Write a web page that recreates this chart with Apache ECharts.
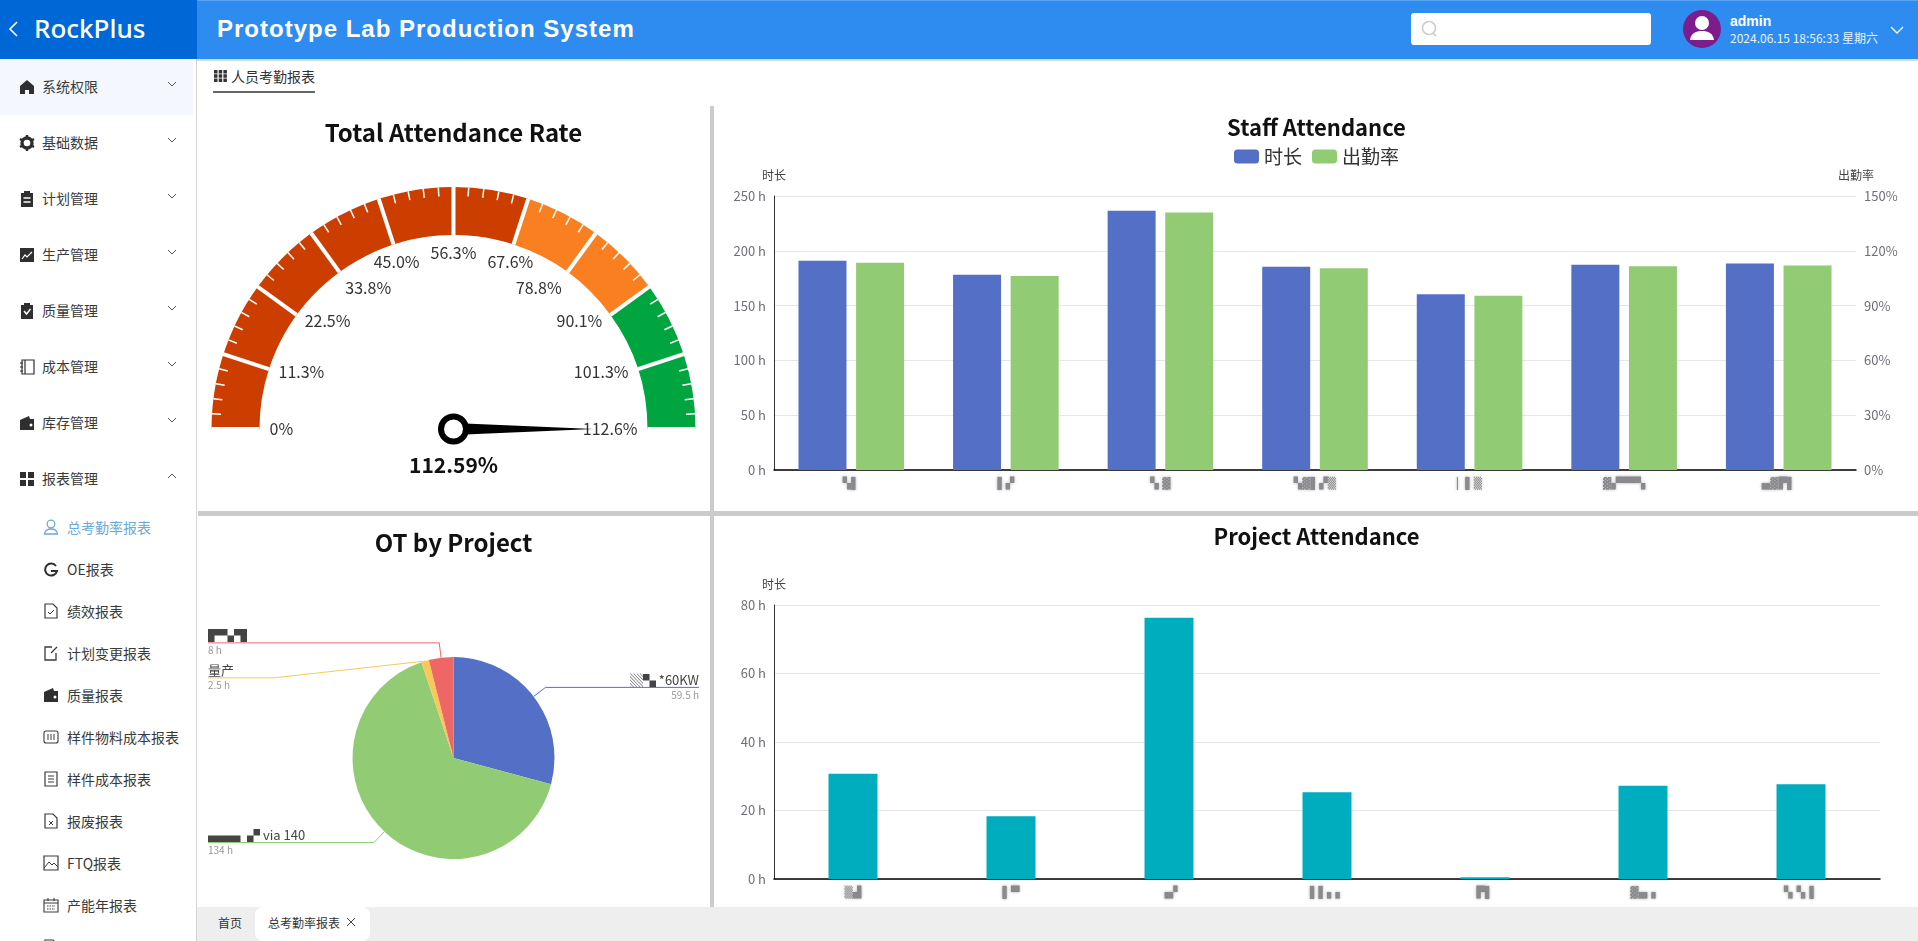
<!DOCTYPE html>
<html>
<head>
<meta charset="utf-8">
<title>Prototype Lab Production System</title>
<script src="https://cdn.jsdelivr.net/npm/echarts@6/dist/echarts.min.js"></script>
<style>
html,body{margin:0;padding:0;width:1918px;height:941px;overflow:hidden;background:#fff;font-family:"Noto Sans CJK SC","Noto Sans",sans-serif;color:#333}
#logo{position:absolute;left:0;top:0;width:197px;height:59px;background:#0067d6;color:#fff}
#logo span{position:absolute;left:34px;top:9px;font-size:26px;font-weight:500;line-height:38px;font-family:"Noto Sans"}
#logo svg{position:absolute;left:7px;top:20px}
#head{position:absolute;left:197px;top:0;right:0;height:59px;background:#2e8cf0;border-top:1px solid #5aa5f3;box-sizing:border-box}
#head h1{position:absolute;left:20px;top:11px;margin:0;font:bold 24px/34px "Liberation Sans";letter-spacing:1px;color:#fff;white-space:nowrap}
#search{position:absolute;left:1214px;top:12px;width:240px;height:32px;background:#fff;border-radius:3px}
#search svg{position:absolute;left:10px;top:7px}
#avatar{position:absolute;left:1486px;top:9px}
#admin{position:absolute;left:1533px;top:11px;font:bold 14px/18px "Liberation Sans";color:#fff}
#stamp{position:absolute;left:1533px;top:28px;font-size:12px;line-height:18px;color:#e6f2ff;white-space:nowrap}
#more{position:absolute;left:1693px;top:24px}
#headline{position:absolute;left:197px;right:0;top:59px;height:2px;background:#cfe0e3}
#side{position:absolute;left:0;top:59px;width:197px;height:882px;border-right:1px solid #d4d4d4;box-sizing:border-box;overflow:hidden;background:#fff}
.top{position:absolute;left:0;width:193px;height:56px}
.top.on{background:#f4f8fe}
.top svg.i{position:absolute;left:19px;top:20px}
.top span{position:absolute;left:42px;top:17px;font-size:14px;line-height:20px;color:#3a3a3a}
.top svg.c{position:absolute;left:166px;top:21px}
.sub{position:absolute;left:0;width:193px;height:42px}
.sub svg{position:absolute;left:43px;top:12px}
.sub span{position:absolute;left:67px;top:10px;font-size:14px;line-height:20px;color:#3a3a3a;white-space:nowrap}
.sub.on span{color:#6aa9d8}
#tab{position:absolute;left:213px;top:61px;width:102px;height:32px;border-bottom:2px solid #666;box-sizing:border-box}
#tab span{position:absolute;left:18px;top:5px;font-size:14px;line-height:20px;white-space:nowrap}
#tab svg{position:absolute;left:1px;top:9px}
.chart{position:absolute}
#c1{left:197px;top:107px;width:513px;height:404px}
#c2{left:715px;top:107px;width:1203px;height:404px}
#c3{left:197px;top:516px;width:513px;height:391px}
#c4{left:715px;top:516px;width:1203px;height:391px}
#dv{position:absolute;left:710px;top:106px;width:4px;height:801px;background:#cbcbcb}
#dh{position:absolute;left:198px;top:511px;right:0;height:5px;background:#cbcbcb}
#foot{position:absolute;left:197px;right:0;top:907px;height:34px;background:#eee}
#home{position:absolute;left:21px;top:7px;font-size:12px;line-height:18px}
#cur{position:absolute;left:58px;top:0;width:115px;height:34px;background:#fff;border-radius:8px}
#cur span{position:absolute;left:13px;top:7px;font-size:12px;line-height:18px;white-space:nowrap}
#cur svg{position:absolute;left:91px;top:10px}
</style>
</head>
<body>
<div id="logo"><svg width="12" height="18" viewBox="0 0 12 18"><path d="M10 2L3 9l7 7" fill="none" stroke="#fff" stroke-width="1.6"/></svg><span>RockPlus</span></div>
<div id="head">
  <h1>Prototype Lab Production System</h1>
  <div id="search"><svg width="18" height="18" viewBox="0 0 18 18"><circle cx="8" cy="8" r="6.5" fill="none" stroke="#ccc" stroke-width="1.6"/><path d="M12 13l3 3" stroke="#ccc" stroke-width="1.6"/></svg></div>
  <svg id="avatar" width="38" height="38" viewBox="0 0 38 38"><circle cx="19" cy="19" r="19" fill="#7d1c8d"/><circle cx="19" cy="13" r="7" fill="#fff"/><path d="M7 30c1-7 6-9 12-9s11 2 12 9z" fill="#fff"/></svg>
  <div id="admin">admin</div>
  <div id="stamp">2024.06.15 18:56:33 星期六</div>
  <svg id="more" width="14" height="10" viewBox="0 0 14 10"><path d="M1 2l6 6 6-6" fill="none" stroke="#fff" stroke-width="1.3"/></svg>
</div>
<div id="headline"></div>
<div id="side"></div>
<div id="tab"><svg width="13" height="12" viewBox="0 0 13 12"><path d="M0 0h3.500v3.500H0zM4.700 0h3.500v3.500H4.700zM9.400 0h3.500v3.500H9.400zM0 4.300h3.500v3.500H0zM4.700 4.300h3.500v3.500H4.700zM9.400 4.300h3.500v3.500H9.400zM0 8.500h3.500v3.500H0zM4.700 8.500h3.500v3.500H4.700zM9.400 8.500h3.500v3.500H9.400z" fill="#333"/></svg><span>人员考勤报表</span></div>
<div id="c1" class="chart"></div>
<div id="c2" class="chart"></div>
<div id="c3" class="chart"></div>
<div id="c4" class="chart"></div>
<div id="dv"></div>
<div id="dh"></div>
<div id="foot"><div id="home">首页</div><div id="cur"><span>总考勤率报表</span><svg width="10" height="10" viewBox="0 0 10 10"><path d="M1 1l8 8M9 1l-8 8" stroke="#444" stroke-width="1"/></svg></div></div>
<script>
// 数据
var rateValue = 112.59;
var rateMax = 112.59;
var staffNames = ['▚▌', '▌▞', '▚ ▓', '▚▓▌▞▒', '▏▌▒', '▓▞▀▀▚', '▄▓▛▌'];
var staffHours = [191, 178.2, 236.6, 185.5, 160.3, 187.3, 188.3];
var staffRates = [113.5, 106.2, 140.9, 110.4, 95.4, 111.5, 111.9];
var projectNames = ['▒▟', '▌▀', '▗▞', '▌▌▖▖', '▛▌', '▓▄▗', '▚▝▖▌'];
var projectHours = [30.75, 18.3, 76.3, 25.3, 0.5, 27.25, 27.7];
var otNames = ['▒▚ *60KW', '▄▄▖▞ via 140', '量产', '▛▚▜'];
var otHours = [59.5, 134, 2.5, 8];
var topMenus = ['系统权限', '基础数据', '计划管理', '生产管理', '质量管理', '成本管理', '库存管理', '报表管理'];
var subMenus = ['总考勤率报表', 'OE报表', '绩效报表', '计划变更报表', '质量报表', '样件物料成本报表', '样件成本报表', '报废报表', 'FTQ报表', '产能年报表', '产能月报表'];

// 菜单图标
var topIcons = [
  '<path d="M8 1L1 7v8h5v-4h4v4h5V7z" fill="#2f2f2f"/>',
  '<circle cx="8" cy="8" r="5" fill="none" stroke="#2f2f2f" stroke-width="3.400"/><path d="M8 0v3M8 13v3M1 4l2.500 1.500M12.500 10.500L15 12M1 12l2.500-1.500M12.500 5.500L15 4" stroke="#2f2f2f" stroke-width="2.400"/>',
  '<path d="M2 2h3V0h6v2h3v14H2z" fill="#2f2f2f"/><path d="M4.500 7h7M4.500 11h7" stroke="#fff" stroke-width="1.300"/>',
  '<path d="M1 1h14v14H1z" fill="#2f2f2f"/><path d="M3 12l3-4 2 2 5-5" fill="none" stroke="#fff" stroke-width="1.200"/>',
  '<path d="M2 2h3V0h6v2h3v14H2z" fill="#2f2f2f"/><path d="M5 8l2.500 3L11.500 6" fill="none" stroke="#fff" stroke-width="1.500"/>',
  '<path d="M3 1h12v14H3zM6 1v14M1 4h3M1 8h3M1 12h3" fill="none" stroke="#2f2f2f" stroke-width="1.200"/>',
  '<path d="M1 5l9-4 1 3h4v11H1z" fill="#2f2f2f"/><circle cx="12" cy="10" r="1.500" fill="#fff"/>',
  '<path d="M1 1h6v6H1zM9 1h6v6H9zM1 9h6v6H1zM9 9h6v6H9z" fill="#2f2f2f"/>'
];
var docIcon = '<path d="M2 1h8l4 4v10H2z" fill="none" stroke="#3a3a3a" stroke-width="1.200"/>';
var subIcons = [
  '<circle cx="8" cy="5" r="3.800" fill="none" stroke="#6aa9d8" stroke-width="1.300"/><path d="M1.500 15c.5-4 3-5 6.500-5s6 1 6.500 5z" fill="none" stroke="#6aa9d8" stroke-width="1.300"/>',
  '<path d="M13 5A6 6 0 1 0 14 10H8" fill="none" stroke="#2f2f2f" stroke-width="2"/>',
  docIcon + '<path d="M5 9l2 2 4-4" fill="none" stroke="#3a3a3a" stroke-width="1"/>',
  '<path d="M13 8v7H2V2h7M8 8l6-6" fill="none" stroke="#3a3a3a" stroke-width="1.300"/>',
  '<path d="M1 5l9-4 1 3h4v11H1z" fill="#2f2f2f"/><circle cx="12" cy="10" r="1.500" fill="#fff"/>',
  '<rect x="1" y="2" width="14" height="12" rx="2" fill="none" stroke="#3a3a3a" stroke-width="1.100"/><path d="M5 5v6M8 5v6M11 5v6" stroke="#3a3a3a" stroke-width="1"/>',
  '<path d="M2 1h12v14H2z" fill="none" stroke="#3a3a3a" stroke-width="1.200"/><path d="M5 5h6M5 8h6M5 11h6" stroke="#3a3a3a" stroke-width="1"/>',
  docIcon + '<path d="M6 8l4 4M10 8l-4 4" stroke="#3a3a3a" stroke-width="1"/>',
  '<path d="M1 1h14v14H1z" fill="none" stroke="#3a3a3a" stroke-width="1.200"/><path d="M1 13l5-6 3 3 2-2 4 4" fill="none" stroke="#3a3a3a" stroke-width="1"/>',
  '<path d="M1 3h14v12H1zM1 6h14M5 1v3M11 1v3" fill="none" stroke="#3a3a3a" stroke-width="1.100"/><path d="M4 9h8M4 12h8" stroke="#3a3a3a" stroke-width="1" stroke-dasharray="1.500 1"/>',
  docIcon
];

var sideHtml = '';
topMenus.forEach(function (name, i) {
  var arrow = i == 7 ? 'M2 6l4-4 4 4' : 'M2 2l4 4 4-4';
  sideHtml += '<div class="top' + (i == 0 ? ' on' : '') + '" style="top:' + (i * 56) + 'px">' +
    '<svg class="i" width="16" height="16" viewBox="0 0 16 16">' + topIcons[i] + '</svg><span>' + name + '</span>' +
    '<svg class="c" width="12" height="9" viewBox="0 0 12 9"><path d="' + arrow + '" fill="none" stroke="#555" stroke-width="1"/></svg></div>';
});
subMenus.forEach(function (name, i) {
  sideHtml += '<div class="sub' + (i == 0 ? ' on' : '') + '" style="top:' + (448 + i * 42) + 'px">' +
    '<svg width="16" height="16" viewBox="0 0 16 16">' + subIcons[i] + '</svg><span>' + name + '</span></div>';
});
document.getElementById('side').innerHTML = sideHtml;

var uiFont = '"Noto Sans CJK SC","Noto Sans",sans-serif';
var maskLabel = { color: '#8a8a8e', fontSize: 11, fontFamily: '"DejaVu Sans"', margin: 9, textShadowColor: '#aaa', textShadowBlur: 3 };
var gridLine = { lineStyle: { color: '#e6e6e6' } };

// 总考勤率
var chartRate = echarts.init(document.getElementById('c1'));
chartRate.setOption({
  animation: false,
  title: { text: 'Total Attendance Rate', left: 'center', top: 9, textStyle: { fontSize: 24, fontWeight: 'bold', color: '#111', fontFamily: uiFont } },
  series: [{
    type: 'gauge',
    center: ['50%', 322],
    radius: 242,
    startAngle: 180,
    endAngle: 0,
    min: 0,
    max: rateMax,
    splitNumber: 10,
    axisLine: { lineStyle: { width: 48, color: [[0.6, '#cc3d00'], [0.8, '#f97f20'], [1, '#00a540']] } },
    splitLine: { distance: -48, length: 48, lineStyle: { color: '#fff', width: 4 } },
    axisTick: { distance: -48, length: 9, splitNumber: 5, lineStyle: { color: '#fff', width: 1.5 } },
    axisLabel: {
      distance: 58, fontSize: 16, color: '#333', fontFamily: uiFont,
      formatter: function (v) { return v == 0 ? '0%' : v.toFixed(1) + '%'; }
    },
    pointer: { icon: 'triangle', length: 140, width: 12, itemStyle: { color: '#000' } },
    anchor: { show: true, showAbove: true, size: 25, itemStyle: { color: '#fff', borderColor: '#000', borderWidth: 6 } },
    title: { show: false },
    detail: { offsetCenter: [0, 36], fontSize: 21, fontWeight: 'bold', color: '#111', fontFamily: uiFont, formatter: '{value}%' },
    data: [{ value: rateValue }]
  }]
});

// 人员出勤
var chartStaff = echarts.init(document.getElementById('c2'));
chartStaff.setOption({
  animation: false,
  title: { text: 'Staff Attendance', left: 'center', top: 5, textStyle: { fontSize: 22, fontWeight: 'bold', color: '#111', fontFamily: uiFont } },
  legend: { top: 35, itemWidth: 25, itemHeight: 14, itemGap: 10, textStyle: { fontSize: 19, color: '#333', fontFamily: uiFont }, data: ['时长', '出勤率'] },
  grid: { left: 59, right: 62, top: 89, bottom: 41 },
  xAxis: { type: 'category', data: staffNames, axisLine: { lineStyle: { color: '#000', width: 1.5 } }, axisTick: { show: false }, axisLabel: maskLabel },
  yAxis: [
    { type: 'value', name: '时长', min: 0, max: 250, interval: 50, nameTextStyle: { fontSize: 12, color: '#444', fontFamily: uiFont },
      axisLine: { show: true, lineStyle: { color: '#333' } }, axisLabel: { formatter: '{value} h', fontSize: 13, color: '#6e7079', fontFamily: uiFont }, splitLine: gridLine },
    { type: 'value', name: '出勤率', min: 0, max: 150, interval: 30, nameTextStyle: { fontSize: 12, color: '#444', fontFamily: uiFont },
      axisLine: { show: false }, axisLabel: { formatter: '{value}%', fontSize: 13, color: '#6e7079', fontFamily: uiFont }, splitLine: { show: false } }
  ],
  series: [
    { name: '时长', type: 'bar', barWidth: 48, barGap: '20%', itemStyle: { color: '#5470c6' }, data: staffHours },
    { name: '出勤率', type: 'bar', yAxisIndex: 1, barWidth: 48, itemStyle: { color: '#91cc75' }, data: staffRates }
  ]
});

// 项目加班
var chartOt = echarts.init(document.getElementById('c3'));
var otData = otNames.map(function (n, i) { return { name: n, value: otHours[i] }; });
chartOt.setOption({
  animation: false,
  color: ['#5470c6', '#91cc75', '#fac858', '#ee6666'],
  title: { text: 'OT by Project', left: 'center', top: 10, textStyle: { fontSize: 24, fontWeight: 'bold', color: '#111', fontFamily: uiFont } },
  series: [{
    type: 'pie',
    center: ['50%', 242],
    radius: 101,
    label: {
      alignTo: 'edge', edgeDistance: 11, minMargin: 5, lineHeight: 15,
      formatter: '{name|{b}}\n{time|{c} h}',
      rich: { name: { fontSize: 13, color: '#444', fontFamily: uiFont + ',"DejaVu Sans"' }, time: { fontSize: 10, color: '#999', fontFamily: uiFont } }
    },
    labelLine: { length: 15, length2: 0, maxSurfaceAngle: 80 },
    labelLayout: function (params) {
      var isLeft = params.labelRect.x < chartOt.getWidth() / 2;
      var points = params.labelLinePoints;
      points[2][0] = isLeft ? params.labelRect.x : params.labelRect.x + params.labelRect.width;
      return { labelLinePoints: points };
    },
    data: otData
  }]
});

// 项目出勤
var chartProject = echarts.init(document.getElementById('c4'));
chartProject.setOption({
  animation: false,
  title: { text: 'Project Attendance', left: 'center', top: 5, textStyle: { fontSize: 22, fontWeight: 'bold', color: '#111', fontFamily: uiFont } },
  grid: { left: 59, right: 38, top: 89, bottom: 28 },
  xAxis: { type: 'category', data: projectNames, axisLine: { lineStyle: { color: '#000', width: 1.5 } }, axisTick: { show: false }, axisLabel: maskLabel },
  yAxis: { type: 'value', name: '时长', min: 0, max: 80, interval: 20, nameTextStyle: { fontSize: 12, color: '#444', fontFamily: uiFont },
    axisLine: { show: true, lineStyle: { color: '#333' } }, axisLabel: { formatter: '{value} h', fontSize: 13, color: '#6e7079', fontFamily: uiFont }, splitLine: gridLine },
  series: [{ name: '时长', type: 'bar', barWidth: 49, itemStyle: { color: '#00adbf' }, data: projectHours }]
});
</script>
</body>
</html>
